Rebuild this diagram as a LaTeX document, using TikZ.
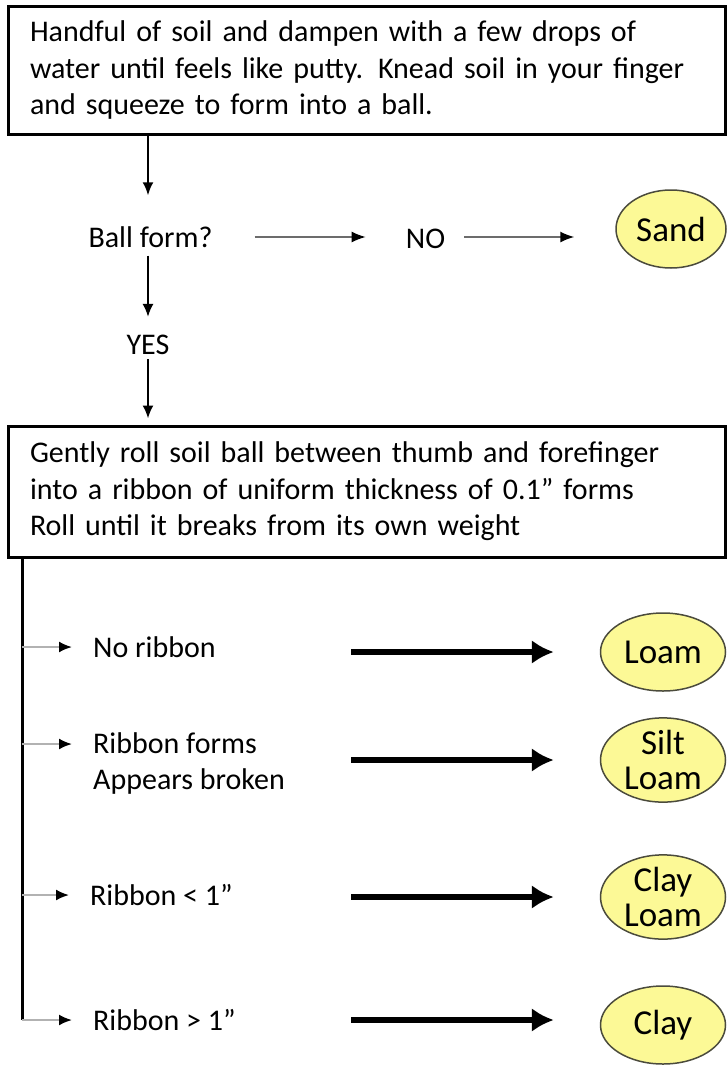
\documentclass[tikz,border=0pt]{standalone}
\usepackage{fontspec}
\setmainfont{Carlito}
\usetikzlibrary{arrows.meta,shapes.geometric}
\definecolor{soilfill}{RGB}{252,249,150}
\definecolor{soilline}{RGB}{75,75,60}

\begin{document}
\begin{tikzpicture}[x=1pt,y=-1pt,
		txt/.style={font=\fontsize{30}{36}\selectfont, inner sep=0pt},
		stepbox/.style={draw, line width=3pt, minimum width=717pt, text width=673pt, align=left, inner sep=0pt, font=\fontsize{30}{36.5}\selectfont},
		soil/.style={ellipse, draw=soilline, line width=1.5pt, fill=soilfill, minimum width=125pt, minimum height=78pt, inner sep=0pt, align=center, font=\fontsize{35}{35}\selectfont},
		down/.style={line width=2pt, -{Latex[length=13pt,width=11pt]}},
		side/.style={draw=gray!85!black, line width=1.5pt, -{Latex[length=14pt,width=11pt,color=black]}},
		branch/.style={draw=gray!60, line width=2pt, shorten >=21pt, -{Latex[length=13pt,width=11pt,color=black]}},
		bigarrow/.style={line width=5.5pt, shorten >=46pt, -{Latex[length=22pt,width=24pt]}}]
				\useasboundingbox (0,0) rectangle (727,1074);

				\node[stepbox, minimum height=128pt] (mix) at (366.5,70) {Handful of soil and dampen with a few drops of\\ water until feels like putty. Knead soil in your finger\\ and squeeze to form into a ball.};
				\node[txt] (ball) at (150.5,237) {Ball form?};
				\node[txt] (no) at (425.5,239) {NO};
				\node[soil, minimum width=110pt] (sand) at (671,229) {Sand};
				\node[txt] (yes) at (148,345) {YES};
				\node[stepbox, minimum height=131pt] (roll) at (366.5,491.5) {Gently roll soil ball between thumb and forefinger\\ into a ribbon of uniform thickness of 0.1” forms\\ Roll until it breaks from its own weight};

				\coordinate (b1) at (22,647);
				\coordinate (b2) at (22,744);
				\coordinate (b3) at (22,895);
				\coordinate (b4) at (22,1020);
				\coordinate (col) at (351,0);

				\node[txt, anchor=west] (noribbon) at (93,647) {No ribbon};
				\node[txt, anchor=west, align=left] (forms) at (93,763) {Ribbon forms\\ Appears broken};
				\node[txt, anchor=west] (less) at (90,895) {Ribbon < 1”};
				\node[txt, anchor=west] (more) at (93,1020) {Ribbon > 1”};

				\node[soil] (loam) at (663,652) {Loam};
				\node[soil] (silt) at (663,760) {Silt\\ Loam};
				\node[soil] (clayloam) at (663,897) {Clay\\ Loam};
				\node[soil] (clay) at (663,1025) {Clay};

				\draw[down, shorten >=31pt] (mix.south -| yes) -- (ball.north -| yes);
				\draw[down, shorten <=8pt, shorten >=18pt] (ball.south -| yes) -- (yes.north);
				\draw[down, shorten <=4pt, shorten >=6pt] (yes.south) -- (roll.north -| yes);
				\draw[side, shorten <=42pt, shorten >=40pt] (ball.east) -- (ball.east -| no.west);
				\draw[side, shorten <=19pt, shorten >=41pt] (no.east |- ball.east) -- (ball.east -| sand.west);

				\draw[line width=3pt] (roll.south -| b1) -- (b4);
				\draw[branch] (b1) -- (b1 -| noribbon.west);
				\draw[branch] (b2) -- (b2 -| forms.west);
				\draw[branch] (b3) -- (b3 -| less.west);
				\draw[branch] (b4) -- (b4 -| more.west);

				\draw[bigarrow] (col |- loam) -- (loam.west);
				\draw[bigarrow] (col |- silt) -- (silt.west);
				\draw[bigarrow] (col |- clayloam) -- (clayloam.west);
				\draw[bigarrow] (col |- b4) -- (b4 -| clay.west);
\end{tikzpicture}
\end{document}
